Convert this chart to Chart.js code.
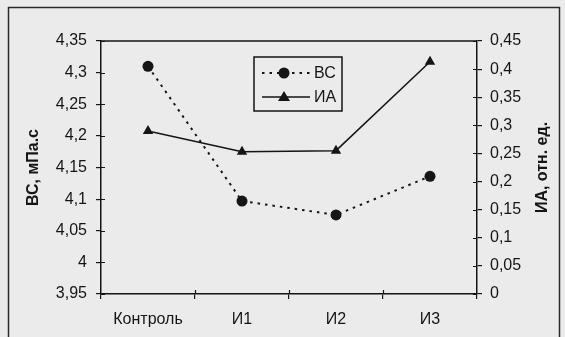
<!DOCTYPE html>
<html>
<head>
<meta charset="utf-8">
<script src="https://cdn.jsdelivr.net/npm/chart.js@4"></script>
<style>
  html, body { margin: 0; padding: 0; background: #ebebeb; }
  canvas { display: block; }
</style>
</head>
<body>
<canvas id="c" width="565" height="337"></canvas>
<script>
// Categories and series
const categories = ['Контроль', 'И1', 'И2', 'И3'];
const bcValues = [4.31, 4.097, 4.075, 4.136];   // ВС, мПа.с (left axis)
const iaValues = [0.29, 0.253, 0.255, 0.413];   // ИА, отн. ед. (right axis)

// Axis ranges and titles
const leftRange = { min: 3.95, max: 4.35, step: 0.05 };
const rightRange = { min: 0, max: 0.45, step: 0.05 };
const leftTitle = 'ВС, мПа.с';
const rightTitle = 'ИА, отн. ед.';
const seriesNames = ['ВС', 'ИА'];

const INK = '#151515';
const FONT = 'Liberation Sans, Arial, sans-serif';

function commaNum(v) {
  return String(Number(v.toFixed(2))).replace('.', ',');
}

const decor = {
  id: 'decor',
  beforeDraw(chart) {
    const ctx = chart.ctx;
    ctx.save();
    ctx.fillStyle = '#ebebeb';
    ctx.fillRect(0, 0, chart.width, chart.height);
    ctx.restore();
  },
  afterDraw(chart) {
    const ctx = chart.ctx;
    const a = chart.chartArea;
    const sx = chart.scales.x, sy = chart.scales.y, sy1 = chart.scales.y1;
    ctx.save();
    ctx.strokeStyle = INK;
    ctx.lineWidth = 1.5;

    // top edge of the plot box
    ctx.beginPath();
    ctx.moveTo(a.left, a.top);
    ctx.lineTo(a.right, a.top);
    ctx.stroke();

    // inner halves of the tick marks
    ctx.lineWidth = 1.2;
    ctx.beginPath();
    sy.ticks.forEach(t => {
      const y = Math.round(sy.getPixelForValue(t.value)) + 0.5;
      ctx.moveTo(a.left, y); ctx.lineTo(a.left + 4, y);
    });
    sy1.ticks.forEach(t => {
      const y = Math.round(sy1.getPixelForValue(t.value)) + 0.5;
      ctx.moveTo(a.right, y); ctx.lineTo(a.right - 4, y);
    });
    for (let i = 1; i < categories.length; i++) {
      const x = Math.round((sx.getPixelForValue(i - 1) + sx.getPixelForValue(i)) / 2) + 0.5;
      ctx.moveTo(x, a.bottom); ctx.lineTo(x, a.bottom - 4);
    }
    ctx.stroke();

    // rotated axis titles (both read bottom-to-top)
    ctx.fillStyle = INK;
    ctx.font = 'bold 16px ' + FONT;
    ctx.textAlign = 'center';
    ctx.textBaseline = 'middle';
    const midY = (a.top + a.bottom) / 2;
    [[34, leftTitle], [543, rightTitle]].forEach(([x, txt]) => {
      ctx.save();
      ctx.translate(x, midY);
      ctx.rotate(-Math.PI / 2);
      ctx.fillText(txt, 0, 0);
      ctx.restore();
    });

    // legend box
    const lx = 254, ly = 57, lw = 88, lh = 54;
    ctx.lineWidth = 1.5;
    ctx.strokeRect(lx, ly, lw, lh);
    const rows = [ly + 16, ly + 40];
    // ВС row: dotted line + circle
    ctx.save();
    ctx.lineWidth = 2;
    ctx.setLineDash([2.5, 5]);
    ctx.beginPath();
    ctx.moveTo(lx + 8, rows[0]); ctx.lineTo(lx + 56, rows[0]);
    ctx.stroke();
    ctx.restore();
    ctx.beginPath();
    ctx.arc(lx + 30, rows[0], 5.5, 0, Math.PI * 2);
    ctx.fill();
    // ИА row: solid line + triangle
    ctx.lineWidth = 1.5;
    ctx.beginPath();
    ctx.moveTo(lx + 8, rows[1]); ctx.lineTo(lx + 56, rows[1]);
    ctx.stroke();
    ctx.beginPath();
    ctx.moveTo(lx + 30, rows[1] - 6);
    ctx.lineTo(lx + 36, rows[1] + 4);
    ctx.lineTo(lx + 24, rows[1] + 4);
    ctx.closePath();
    ctx.fill();
    ctx.font = '16px ' + FONT;
    ctx.textAlign = 'left';
    ctx.fillText(seriesNames[0], lx + 60, rows[0] + 1);
    ctx.fillText(seriesNames[1], lx + 60, rows[1] + 1);

    // outer frame
    ctx.strokeStyle = '#2a2a2a';
    ctx.lineWidth = 1.5;
    ctx.beginPath();
    ctx.moveTo(8.5, 345); ctx.lineTo(8.5, 7.5); ctx.lineTo(559.5, 7.5); ctx.lineTo(559.5, 345);
    ctx.stroke();
    ctx.restore();
  }
};

const tickFont = { family: FONT, size: 16 };

new Chart(document.getElementById('c'), {
  type: 'line',
  data: {
    labels: categories,
    datasets: [
      {
        label: seriesNames[0],
        data: bcValues,
        yAxisID: 'y',
        borderColor: INK,
        backgroundColor: INK,
        borderWidth: 2,
        borderDash: [2.5, 5],
        pointStyle: 'circle',
        pointRadius: 5.5,
        pointBorderWidth: 0,
        tension: 0
      },
      {
        label: seriesNames[1],
        data: iaValues,
        yAxisID: 'y1',
        borderColor: INK,
        backgroundColor: INK,
        borderWidth: 1.5,
        pointStyle: 'triangle',
        pointRadius: 6,
        pointBorderWidth: 0,
        tension: 0
      }
    ]
  },
  options: {
    responsive: false,
    animation: false,
    devicePixelRatio: 1,
    layout: { padding: { top: 41, left: 0, right: 0, bottom: 0 } },
    plugins: { legend: { display: false }, tooltip: { enabled: false } },
    scales: {
      x: {
        offset: true,
        grid: { offset: true, drawOnChartArea: false, tickLength: 5, color: INK, lineWidth: 1.2 },
        border: { color: INK, width: 1.5 },
        ticks: { font: tickFont, color: INK, padding: 11, maxRotation: 0 },
        afterFit(s) { s.height = 43; }
      },
      y: {
        position: 'left',
        min: leftRange.min,
        max: leftRange.max,
        grid: { drawOnChartArea: false, tickLength: 5, color: INK, lineWidth: 1.2 },
        border: { color: INK, width: 1.5 },
        ticks: { stepSize: leftRange.step, font: tickFont, color: INK, padding: 9, callback: v => commaNum(v) },
        afterFit(s) { s.width = 101; }
      },
      y1: {
        position: 'right',
        min: rightRange.min,
        max: rightRange.max,
        grid: { drawOnChartArea: false, tickLength: 5, color: INK, lineWidth: 1.2 },
        border: { color: INK, width: 1.5 },
        ticks: { stepSize: rightRange.step, font: tickFont, color: INK, padding: 8, callback: v => commaNum(v) },
        afterFit(s) { s.width = 88; }
      }
    }
  },
  plugins: [decor]
});
</script>
</body>
</html>
